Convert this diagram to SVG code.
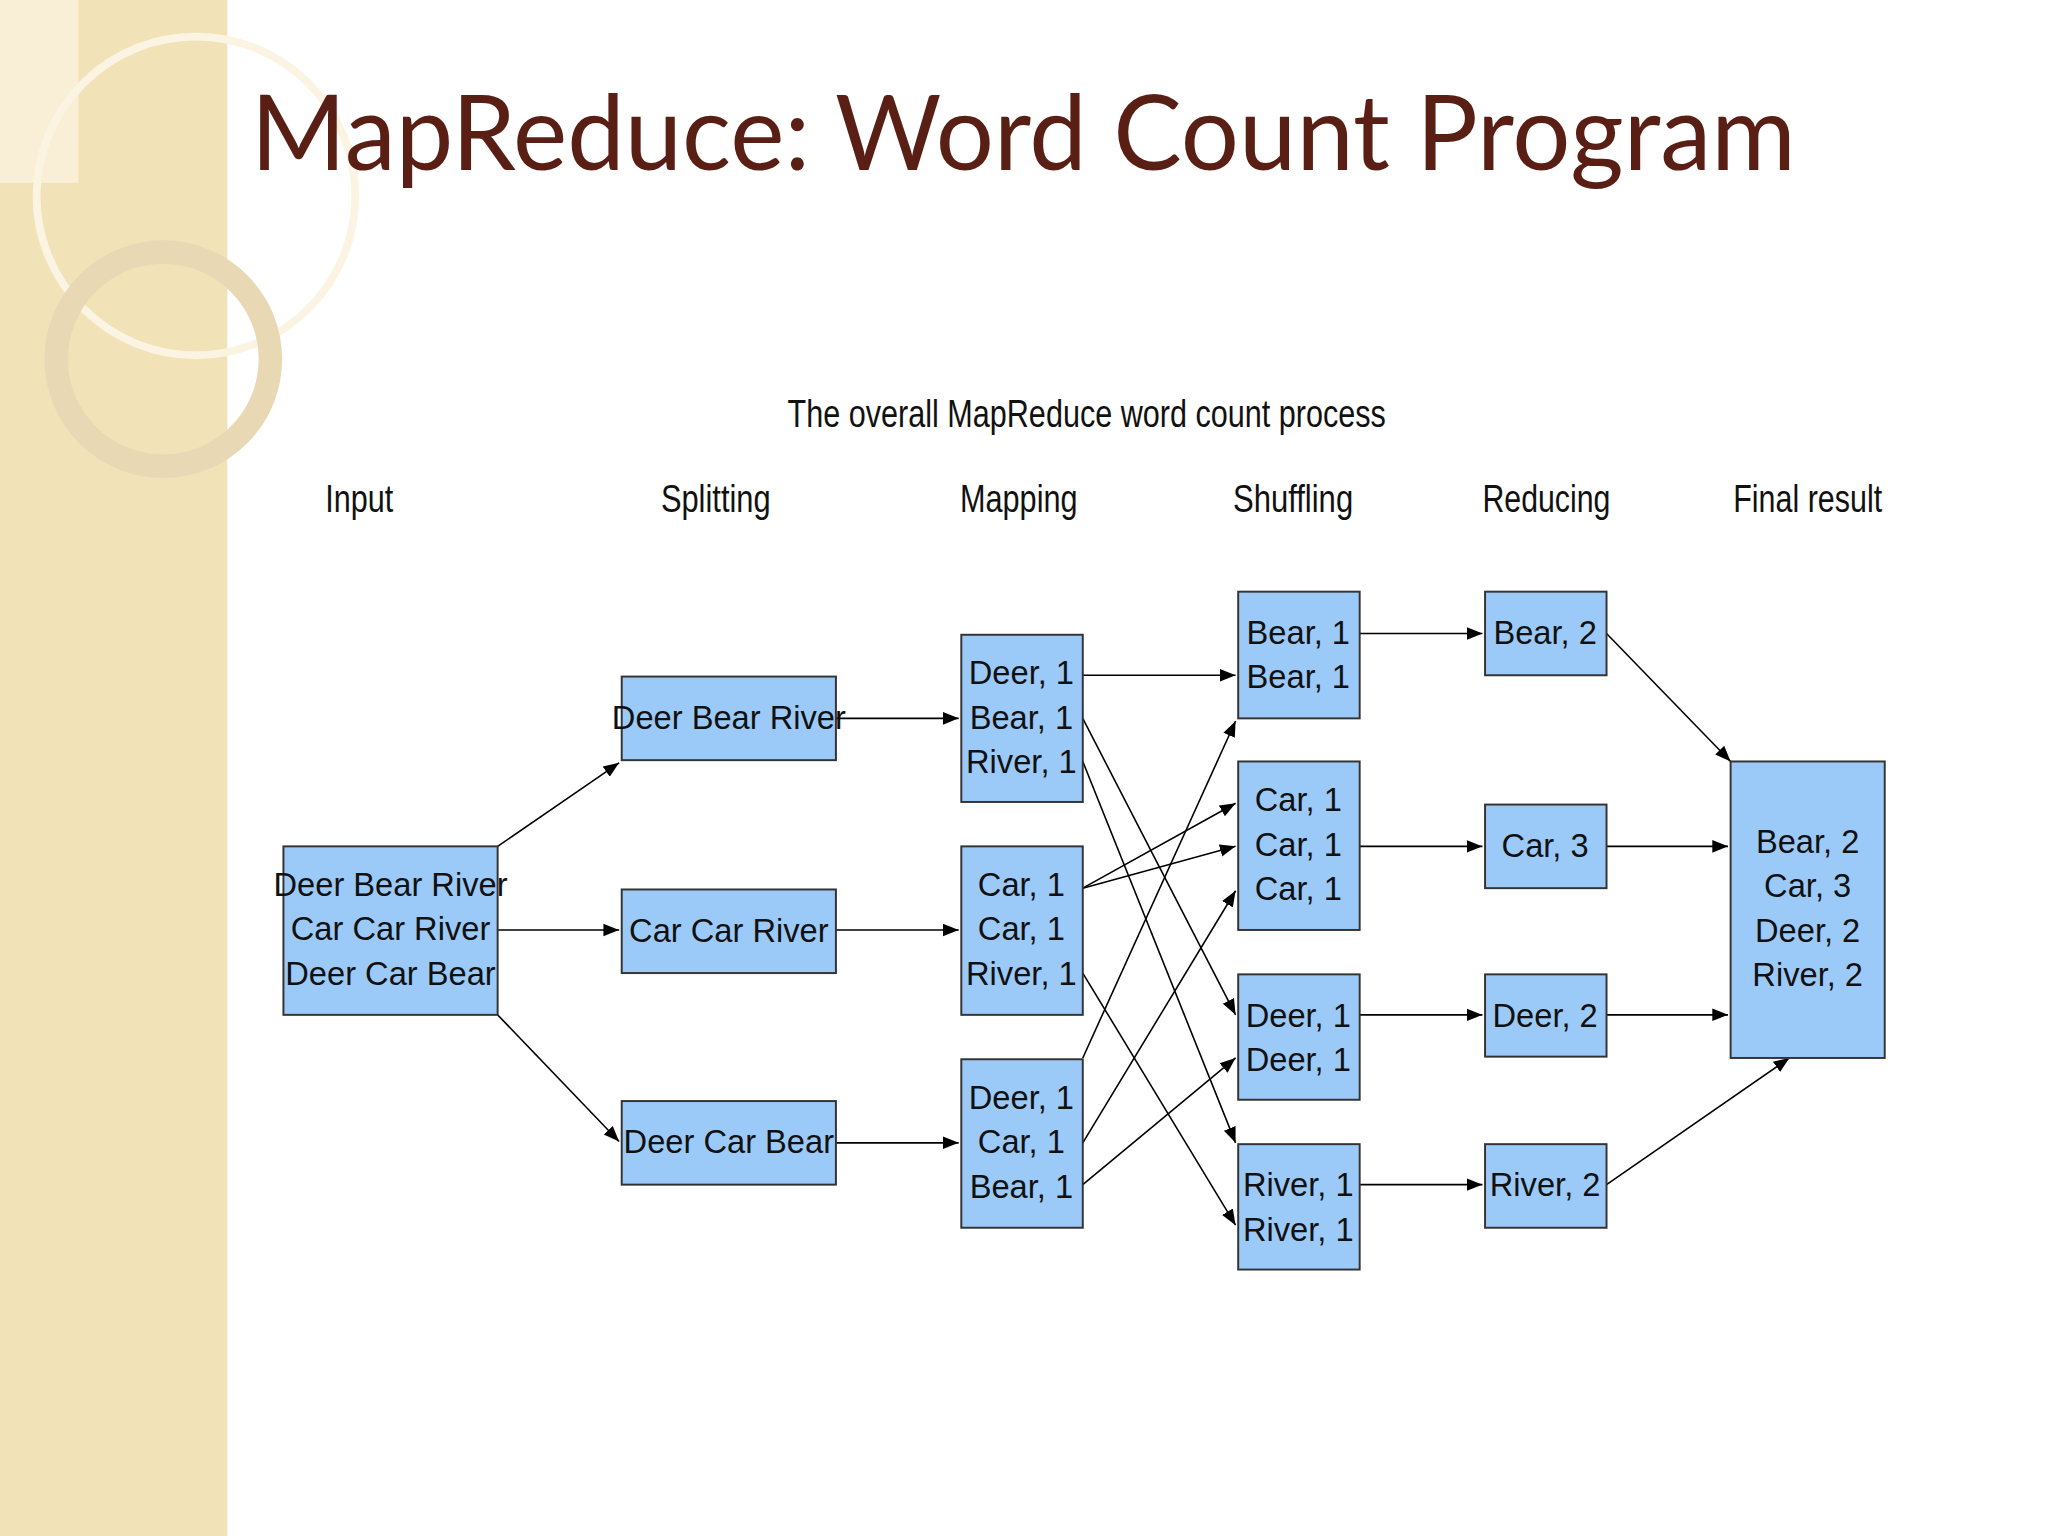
<svg xmlns="http://www.w3.org/2000/svg" width="2048" height="1536" viewBox="0 0 2048 1536">
<defs>
<marker id="ah" viewBox="0 0 10 10" refX="10" refY="5" markerWidth="12" markerHeight="12" markerUnits="userSpaceOnUse" orient="auto"><path d="M0,1 L10,5 L0,9 z" fill="#000"/></marker>
<style>
.b{fill:#9ccaf8;stroke:#333;stroke-width:1.5}
.t{font-family:"Liberation Sans",Arial,sans-serif;font-size:25px;fill:#111;text-anchor:middle}
.h{font-family:"Liberation Sans",Arial,sans-serif;font-size:29px;fill:#111;text-anchor:middle}
#conn line{stroke:#000;stroke-width:1.2;marker-end:url(#ah)}
</style>
</defs>
<rect width="2048" height="1536" fill="#fff"/>
<g transform="scale(1.30612)">
<rect x="0" y="0" width="174" height="1176" fill="#f1e2b8"/>
<rect x="0" y="0" width="60" height="140" fill="#f8efd6"/>
<circle cx="150" cy="150" r="122" fill="none" stroke="#fbf4e2" stroke-width="6"/>
<circle cx="125" cy="275" r="82" fill="none" stroke="#e8d9b4" stroke-width="18"/>
<text x="192" y="130" font-family="Lato,'Open Sans',sans-serif" font-size="80" fill="#5a1f14" textLength="1183" lengthAdjust="spacingAndGlyphs">MapReduce: Word Count Program</text>
<text class="h" x="832" y="327" textLength="458" lengthAdjust="spacingAndGlyphs">The overall MapReduce word count process</text>
<g class="h">
<text class="h" x="275" y="392" textLength="52" lengthAdjust="spacingAndGlyphs">Input</text>
<text class="h" x="548" y="392" textLength="84" lengthAdjust="spacingAndGlyphs">Splitting</text>
<text class="h" x="780" y="392" textLength="90" lengthAdjust="spacingAndGlyphs">Mapping</text>
<text class="h" x="990" y="392" textLength="92" lengthAdjust="spacingAndGlyphs">Shuffling</text>
<text class="h" x="1184" y="392" textLength="98" lengthAdjust="spacingAndGlyphs">Reducing</text>
<text class="h" x="1384" y="392" textLength="114" lengthAdjust="spacingAndGlyphs">Final result</text>
</g>
<g id="conn">
<line x1="381" y1="648" x2="474" y2="584"/>
<line x1="381" y1="712" x2="474" y2="712"/>
<line x1="381" y1="777" x2="474" y2="874"/>
<line x1="640" y1="550" x2="734" y2="550"/>
<line x1="640" y1="712" x2="734" y2="712"/>
<line x1="640" y1="875" x2="734" y2="875"/>
<line x1="829" y1="517" x2="946" y2="517"/>
<line x1="829" y1="550" x2="946" y2="777"/>
<line x1="829" y1="583" x2="946" y2="875"/>
<line x1="829" y1="680" x2="946" y2="615"/>
<line x1="829" y1="680" x2="946" y2="648"/>
<line x1="829" y1="745" x2="946" y2="938"/>
<line x1="829" y1="810" x2="946" y2="552"/>
<line x1="829" y1="875" x2="946" y2="682"/>
<line x1="829" y1="907" x2="946" y2="810"/>
<line x1="1041" y1="485" x2="1135" y2="485"/>
<line x1="1041" y1="648" x2="1135" y2="648"/>
<line x1="1041" y1="777" x2="1135" y2="777"/>
<line x1="1041" y1="907" x2="1135" y2="907"/>
<line x1="1230" y1="485" x2="1325" y2="583"/>
<line x1="1230" y1="648" x2="1323" y2="648"/>
<line x1="1230" y1="777" x2="1323" y2="777"/>
<line x1="1230" y1="907" x2="1370" y2="810"/>
</g>
<g id="input"><rect class="b" x="217" y="648" width="164" height="129"/><text class="t" x="299" y="686">Deer Bear River</text><text class="t" x="299" y="720">Car Car River</text><text class="t" x="299" y="754">Deer Car Bear</text></g>
<g id="split1"><rect class="b" x="476" y="518" width="164" height="64"/><text class="t" x="558" y="558">Deer Bear River</text></g>
<g id="split2"><rect class="b" x="476" y="681" width="164" height="64"/><text class="t" x="558" y="721">Car Car River</text></g>
<g id="split3"><rect class="b" x="476" y="843" width="164" height="64"/><text class="t" x="558" y="883">Deer Car Bear</text></g>
<g id="map1"><rect class="b" x="736" y="486" width="93" height="128"/><text class="t" x="782" y="524">Deer, 1</text><text class="t" x="782" y="558">Bear, 1</text><text class="t" x="782" y="592">River, 1</text></g>
<g id="map2"><rect class="b" x="736" y="648" width="93" height="129"/><text class="t" x="782" y="686">Car, 1</text><text class="t" x="782" y="720">Car, 1</text><text class="t" x="782" y="754">River, 1</text></g>
<g id="map3"><rect class="b" x="736" y="811" width="93" height="129"/><text class="t" x="782" y="849">Deer, 1</text><text class="t" x="782" y="883">Car, 1</text><text class="t" x="782" y="917">Bear, 1</text></g>
<g id="sh1"><rect class="b" x="948" y="453" width="93" height="97"/><text class="t" x="994" y="493">Bear, 1</text><text class="t" x="994" y="527">Bear, 1</text></g>
<g id="sh2"><rect class="b" x="948" y="583" width="93" height="129"/><text class="t" x="994" y="621">Car, 1</text><text class="t" x="994" y="655">Car, 1</text><text class="t" x="994" y="689">Car, 1</text></g>
<g id="sh3"><rect class="b" x="948" y="746" width="93" height="96"/><text class="t" x="994" y="786">Deer, 1</text><text class="t" x="994" y="820">Deer, 1</text></g>
<g id="sh4"><rect class="b" x="948" y="876" width="93" height="96"/><text class="t" x="994" y="916">River, 1</text><text class="t" x="994" y="950">River, 1</text></g>
<g id="red1"><rect class="b" x="1137" y="453" width="93" height="64"/><text class="t" x="1183" y="493">Bear, 2</text></g>
<g id="red2"><rect class="b" x="1137" y="616" width="93" height="64"/><text class="t" x="1183" y="656">Car, 3</text></g>
<g id="red3"><rect class="b" x="1137" y="746" width="93" height="63"/><text class="t" x="1183" y="786">Deer, 2</text></g>
<g id="red4"><rect class="b" x="1137" y="876" width="93" height="64"/><text class="t" x="1183" y="916">River, 2</text></g>
<g id="final"><rect class="b" x="1325" y="583" width="118" height="227"/><text class="t" x="1384" y="653">Bear, 2</text><text class="t" x="1384" y="687">Car, 3</text><text class="t" x="1384" y="721">Deer, 2</text><text class="t" x="1384" y="755">River, 2</text></g>
</g>
</svg>
